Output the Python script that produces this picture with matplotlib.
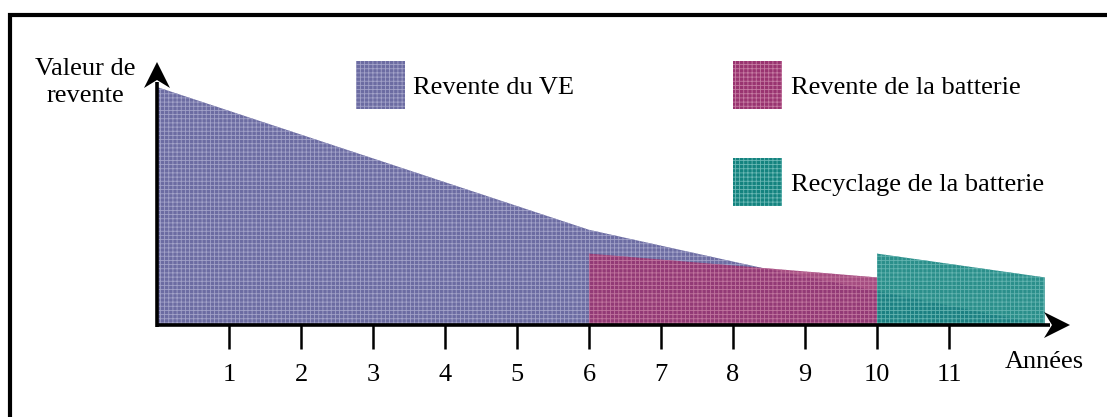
"""
Valeur de revente d'un VE et de sa batterie selon les années
"""
import matplotlib
matplotlib.use("Agg")
import matplotlib.pyplot as plt
from matplotlib.patches import Rectangle, Polygon

plt.rcParams["font.family"] = ["Liberation Serif", "DejaVu Serif"]
plt.rcParams["hatch.linewidth"] = 0.6

# data (valeur relative, 100 = valeur du VE neuf)
years_ve = [0, 6, 8.4, 12.33]
value_ve = [100, 40, 24, 0]
years_batt = [6, 10]
value_batt = [30, 20]
years_recy = [10, 12.33]
value_recy = [30, 20]
year_ticks = list(range(1, 12))
labels = ["Revente du VE", "Revente de la batterie", "Recyclage de la batterie"]

colors = ["#6c6ca2", "#993470", "#14837f"]
hatch_colors = ["#a2a2c8", "#c57ba2", "#6ab8b4"]

fig = plt.figure(figsize=(11.07, 4.17), dpi=100)
ax = fig.add_axes([0, 0, 1, 1])
# 1 year = 72 px, origin at (157, 325) px
sx, sy = 72, 2.38
ax.set_xlim(-157 / sx, (1107 - 157) / sx)
ax.set_ylim((325 - 417) / sy, 325 / sy)
ax.axis("off")

series = [(years_ve, value_ve, 1.0), (years_batt, value_batt, 0.88), (years_recy, value_recy, 0.9)]
for (xs, ys, a), c, hc in zip(series, colors, hatch_colors):
    ax.fill_between(xs, 0, ys, facecolor=c, edgecolor=hc, hatch="++++",
                    linewidth=0, alpha=a)

# axes lines with stealth-like arrow heads
y_top = (325 - 62) / sy
x_end = (1070 - 157) / sx
ax.plot([0, 0], [-0.8, y_top - 20 / sy], color="black", lw=2.6, solid_capstyle="butt")
ax.plot([-0.02, x_end - 20 / sx], [0, 0], color="black", lw=2.6, solid_capstyle="butt")
ax.add_patch(Polygon([(0, y_top), (-13 / sx, y_top - 26 / sy), (0, y_top - 18 / sy),
                      (13 / sx, y_top - 26 / sy)], closed=True, color="black", lw=0))
ax.add_patch(Polygon([(x_end, 0), (x_end - 26 / sx, 13 / sy), (x_end - 18 / sx, 0),
                      (x_end - 26 / sx, -13 / sy)], closed=True, color="black", lw=0))

for t in year_ticks:
    ax.plot([t, t], [0, -10], color="black", lw=1.8, solid_capstyle="butt")
    ax.text(t, -21.2, str(t), ha="center", va="center", fontsize=19)

ax.text(12.32, -15.5, "Années", ha="center", va="center", fontsize=19)
ax.text(-0.99, 102, "Valeur de\nrevente", ha="center", va="center",
        fontsize=19, linespacing=1.3)

# legend boxes
legend_pos = [(2.76, 90.8), (8.0, 90.8), (8.0, 50.0)]
for (x0, y0), lab, c, hc in zip(legend_pos, labels, colors, hatch_colors):
    ax.add_patch(Rectangle((x0, y0), 0.68, 20.2, facecolor=c, edgecolor=hc,
                           hatch="++++", linewidth=0))
    ax.text(x0 + 0.8, y0 + 8.9, lab, ha="left", va="center", fontsize=19)

# frame (top and left only visible)
ax.plot([-147 / sx, -147 / sx, 20], [-60, (325 - 15) / sy, (325 - 15) / sy],
        color="black", lw=3, solid_joinstyle="miter")

fig.savefig("out.png", dpi=100)
